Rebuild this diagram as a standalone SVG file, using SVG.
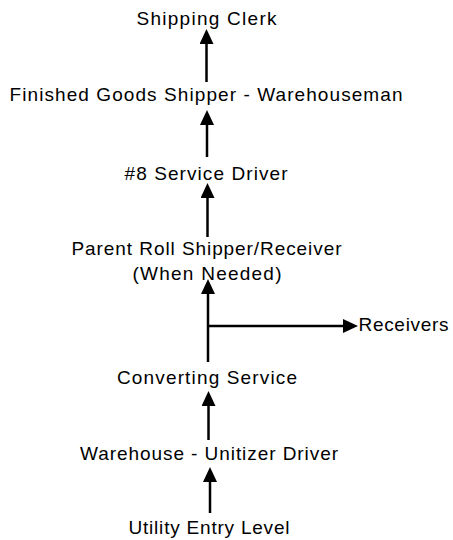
<svg xmlns="http://www.w3.org/2000/svg" width="453" height="540" viewBox="0 0 453 540">
<style>
  text { font-family: "Liberation Sans", Arial, sans-serif; font-size: 19px; fill: #000; text-anchor: middle; }
  .conn { stroke: #000; stroke-width: 2.5; fill: none; marker-end: url(#ah); }
</style>
<defs>
  <marker id="ah" viewBox="0 0 15 14" refX="11" refY="7" markerWidth="15" markerHeight="14" markerUnits="userSpaceOnUse" orient="auto">
    <path d="M0,0 L15,7 L0,14 z" fill="#000"/>
  </marker>
</defs>
<rect width="453" height="540" fill="#fff"/>
<g id="connectors">
  <line class="conn" x1="206.5" y1="82" x2="206.5" y2="33"/>
  <line class="conn" x1="207" y1="157" x2="207" y2="114"/>
  <line class="conn" x1="207.5" y1="237" x2="207.5" y2="187"/>
  <line class="conn" x1="208" y1="362" x2="208" y2="283"/>
  <line class="conn" x1="208" y1="326" x2="354" y2="326"/>
  <line class="conn" x1="208.5" y1="440" x2="208.5" y2="395"/>
  <line class="conn" x1="210" y1="513" x2="210" y2="471"/>
</g>
<g id="shipping-clerk"><text x="206.5" y="25" textLength="140" lengthAdjust="spacing">Shipping Clerk</text></g>
<g id="finished-goods"><text x="206" y="100.5" textLength="393" lengthAdjust="spacing">Finished Goods Shipper - Warehouseman</text></g>
<g id="service-driver"><text x="206" y="180" textLength="163" lengthAdjust="spacing">#8 Service Driver</text></g>
<g id="parent-roll">
  <text x="206.5" y="255" textLength="270" lengthAdjust="spacing">Parent Roll Shipper/Receiver</text>
  <text x="207" y="280" textLength="149" lengthAdjust="spacing">(When Needed)</text>
</g>
<g id="receivers"><text x="358.5" y="331" textLength="90" lengthAdjust="spacing" style="text-anchor:start">Receivers</text></g>
<g id="converting-service"><text x="207" y="384" textLength="180" lengthAdjust="spacing">Converting Service</text></g>
<g id="warehouse-unitizer"><text x="209" y="460" textLength="258" lengthAdjust="spacing">Warehouse - Unitizer Driver</text></g>
<g id="utility-entry"><text x="209" y="534" textLength="161" lengthAdjust="spacing">Utility Entry Level</text></g>
</svg>
